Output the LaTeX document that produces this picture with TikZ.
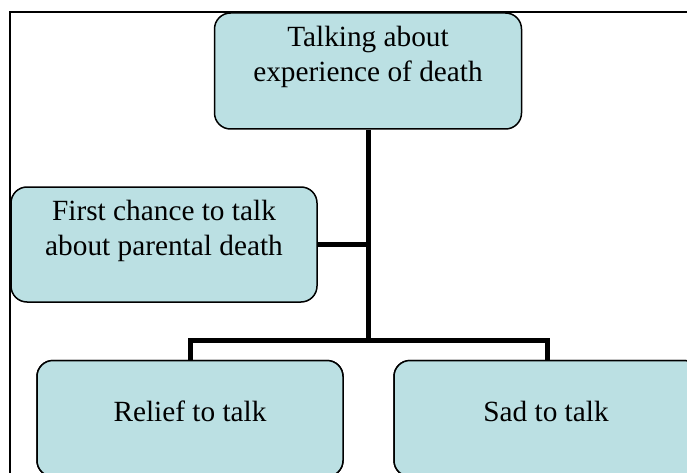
\documentclass[tikz,border=0pt]{standalone}
\usepackage{fontspec}
\setmainfont{Liberation Serif}
\definecolor{boxfill}{RGB}{187,224,227}
\tikzset{
  box/.style={draw=black, line width=1.5pt, fill=boxfill, rounded corners=16pt, minimum width=306pt, minimum height=116pt, inner sep=0pt},
  txt/.style={align=center, inner sep=0pt, font=\fontsize{29.3}{35}\selectfont},
  conn/.style={draw=black, line width=5pt},
  frame/.style={draw=black, line width=1.2pt}
}
\begin{document}
\begin{tikzpicture}[x=1pt, y=-1pt]
\useasboundingbox (0,0) rectangle (687,473);
\clip (0,0) rectangle (687,473);
\fill[white] (0,0) rectangle (687,473);
\draw[frame] (10,480) -- (10,12) -- (690,12);
% connectors
\coordinate (bar) at (368.5,340.5);
\node[box, minimum width=307pt] (top) at (368,71) {};
\node[box, minimum height=115pt] (left) at (164,244.5) {};
\node[box] (relief) at (190,418.5) {};
\node[box] (sad) at (547,418.5) {};
\draw[conn] (top.south) -- (top.south |- bar);
\draw[conn] (left.east) -- (left.east -| top.south);
\draw[conn] (relief.north) |- (bar) -| (sad.north);
% redraw box borders over connector ends
\node[box] at (relief) {};
\node[box] at (sad) {};
% texts
\node[txt] (toptext) at (368,57.2) {Talking about\\experience of death};
\node[txt] (lefttext) at (164,230.7) {First chance to talk\\about parental death};
\node[txt, anchor=base] (relieftext) at (190,421) {Relief to talk};
\node[txt, anchor=base] (sadtext) at (546,421) {Sad to talk};
\end{tikzpicture}
\end{document}
